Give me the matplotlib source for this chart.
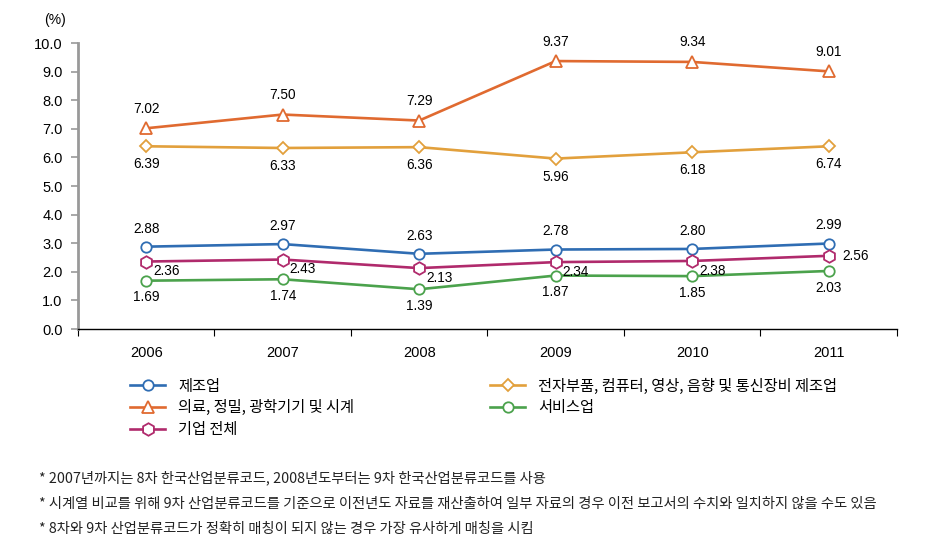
import matplotlib.pyplot as plt

# data
years = ["2006", "2007", "2008", "2009", "2010", "2011"]
manuf = [2.88, 2.97, 2.63, 2.78, 2.80, 2.99]
medical = [7.02, 7.50, 7.29, 9.37, 9.34, 9.01]
# the 2011 point sits at ~6.4 in the source even though it is labelled 6.74
elec = [6.39, 6.33, 6.36, 5.96, 6.18, 6.39]
elec_labels = ["6.39", "6.33", "6.36", "5.96", "6.18", "6.74"]
service = [1.69, 1.74, 1.39, 1.87, 1.85, 2.03]
total = [2.36, 2.43, 2.13, 2.34, 2.38, 2.56]

names = ["제조업", "의료, 정밀, 광학기기 및 시계", "기업 전체",
         "전자부품, 컴퓨터, 영상, 음향 및 통신장비 제조업", "서비스업"]

notes = [
    "* 2007년까지는 8차 한국산업분류코드, 2008년도부터는 9차 한국산업분류코드를 사용",
    "* 시계열 비교를 위해 9차 산업분류코드를 기준으로 이전년도 자료를 재산출하여 일부 자료의 경우 이전 보고서의 수치와 일치하지 않을 수도 있음",
    "* 8차와 9차 산업분류코드가 정확히 매칭이 되지 않는 경우 가장 유사하게 매칭을 시킴",
]

plt.rcParams['font.family'] = ['Liberation Sans', 'Noto Sans CJK KR', 'DejaVu Sans']
KR = ['Noto Sans CJK KR', 'DejaVu Sans']

fig = plt.figure(figsize=(9.26, 5.54), dpi=100)
ax = fig.add_axes([0.0842, 0.4061, 0.8844, 0.5162])

x = [i + 0.5 for i in range(len(years))]

c_blue = "#2f6db3"
c_orange = "#e06a30"
c_gold = "#e2a03c"
c_mag = "#b02a6c"
c_green = "#4ba24c"

series = [
    (manuf, c_blue, 'o', 7.5, names[0]),
    (medical, c_orange, '^', 9, names[1]),
    (total, c_mag, 'h', 9, names[2]),
    (elec, c_gold, 'D', 6.5, names[3]),
    (service, c_green, 'o', 7.5, names[4]),
]
for vals, col, mk, ms, lab in series:
    ax.plot(x, vals, color=col, lw=1.9, marker=mk, ms=ms, mfc="white",
            mec=col, mew=1.3, label=lab, zorder=3)

fs = 9.8
for i in range(len(years)):
    ax.annotate("%.2f" % manuf[i], (x[i], manuf[i]), xytext=(0, 13),
                textcoords="offset points", ha="center", va="center", fontsize=fs)
    ax.annotate("%.2f" % medical[i], (x[i], medical[i]), xytext=(0, 14),
                textcoords="offset points", ha="center", va="center", fontsize=fs)
    ax.annotate(elec_labels[i], (x[i], elec[i]), xytext=(0, -13),
                textcoords="offset points", ha="center", va="center", fontsize=fs)
    ax.annotate("%.2f" % service[i], (x[i], service[i]), xytext=(0, -12),
                textcoords="offset points", ha="center", va="center", fontsize=fs)
    if i < len(years) - 1:
        ax.annotate("%.2f" % total[i], (x[i], total[i]), xytext=(5, -7),
                    textcoords="offset points", ha="left", va="center", fontsize=fs)
    else:
        ax.annotate("%.2f" % total[i], (x[i], total[i]), xytext=(10, 0),
                    textcoords="offset points", ha="left", va="center", fontsize=fs)

ax.set_xlim(0, 6)
ax.set_ylim(0, 10)
ax.set_yticks([i for i in range(11)])
ax.set_yticklabels(["%.1f" % i for i in range(11)], fontsize=10.5)
ax.set_xticks(range(7))
ax.set_xticklabels([])
ax.set_xticks(x, minor=True)
ax.set_xticklabels(years, minor=True, fontsize=10.5)
ax.tick_params(axis='x', which='minor', length=0, pad=12)
ax.tick_params(axis='x', which='major', length=5, color="black", direction="out")
ax.tick_params(axis='y', length=5, color="#999999", width=1.2, pad=6)

for s in ["top", "right"]:
    ax.spines[s].set_visible(False)
ax.spines["left"].set_color("#999999")
ax.spines["left"].set_linewidth(2)
ax.spines["bottom"].set_color("black")
ax.spines["bottom"].set_linewidth(1)

fig.text(0.048, 0.964, "(%)", fontsize=10, ha="left", va="center")

fig.legend(loc="upper left", bbox_to_anchor=(0.1404, 0.318), ncol=2, frameon=False,
           prop={'family': KR, 'size': 11}, handlelength=2.3, handletextpad=0.85,
           columnspacing=8.9, labelspacing=0.3, borderaxespad=0, borderpad=0)

for j, t in enumerate(notes):
    fig.text(0.042, 0.137 - j * 0.046, t, fontsize=10.3, family=KR, ha="left",
             va="center", color="#222222")

fig.savefig("out.png", dpi=100)
